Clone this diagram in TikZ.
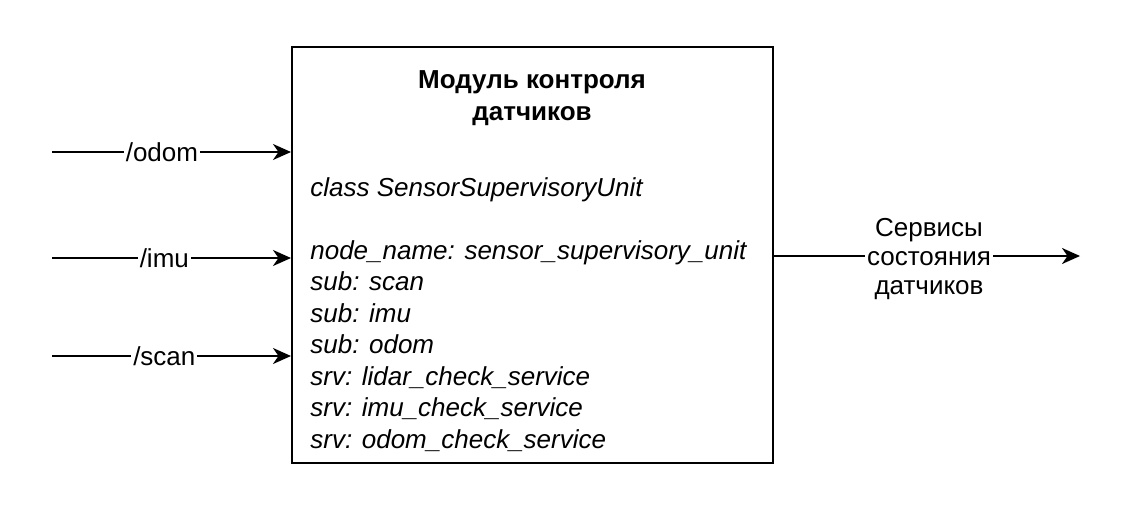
\documentclass[tikz,border=0pt]{standalone}
\usepackage{fontspec}
\setmainfont{Liberation Sans}
\usepackage{tikz}
\usetikzlibrary{arrows.meta,positioning,calc}

\begin{document}
\begin{tikzpicture}[
    x=0.02cm, y=-0.02cm,
    unitbox/.style={rectangle, draw, line width=1.2pt,
        minimum width=9.62cm, minimum height=8.32cm, inner sep=0pt},
    title/.style={font=\fontsize{14.8}{17.9}\selectfont\bfseries,
        align=center, inner sep=0pt},
    body/.style={font=\fontsize{14.8}{17.9}\selectfont\itshape,
        align=left, inner sep=0pt},
    arr/.style={-{Stealth[length=0.36cm, width=0.32cm, inset=0.11cm]},
        line width=1.2pt},
    topic/.style={font=\fontsize{14.8}{17.9}\selectfont, fill=white,
        inner sep=1pt},
    outlabel/.style={font=\fontsize{14.8}{16.5}\selectfont, fill=white,
        align=center, inner sep=1pt},
]
\useasboundingbox (0,0) rectangle (1148,517);

% ── Supervisory unit ──
\node[unitbox] (unit) at (532.5,255) {};
\node[title, anchor=base] (unittitle) at (532,120)
    {Модуль контроля\\датчиков};
\node[body, anchor=base west] (unitbody) at (310,448)
    {class SensorSupervisoryUnit\\[0.63cm]
     node\_name: sensor\_supervisory\_unit\\
     sub: scan\\
     sub: imu\\
     sub: odom\\
     srv: lidar\_check\_service\\
     srv: imu\_check\_service\\
     srv: odom\_check\_service};

% ── Inputs ──
\coordinate (odom) at (52,152);
\coordinate (imu) at (52,258);
\coordinate (scan) at (52,356);

\draw[arr] (odom) -- (odom -| unit.west)
    node[pos=0.46, topic] (odomlabel) {/odom};
\draw[arr] (imu) -- (imu -| unit.west)
    node[pos=0.47, topic] (imulabel) {/imu};
\draw[arr] (scan) -- (scan -| unit.west)
    node[pos=0.47, topic] (scanlabel) {/scan};

% ── Output ──
\coordinate (srv) at (1080,256);
\draw[arr] (srv -| unit.east) -- (srv)
    node[midway, outlabel, yshift=-0.06cm, xshift=0.04cm] (srvlabel)
    {Сервисы\\состояния\\датчиков};

\end{tikzpicture}
\end{document}
